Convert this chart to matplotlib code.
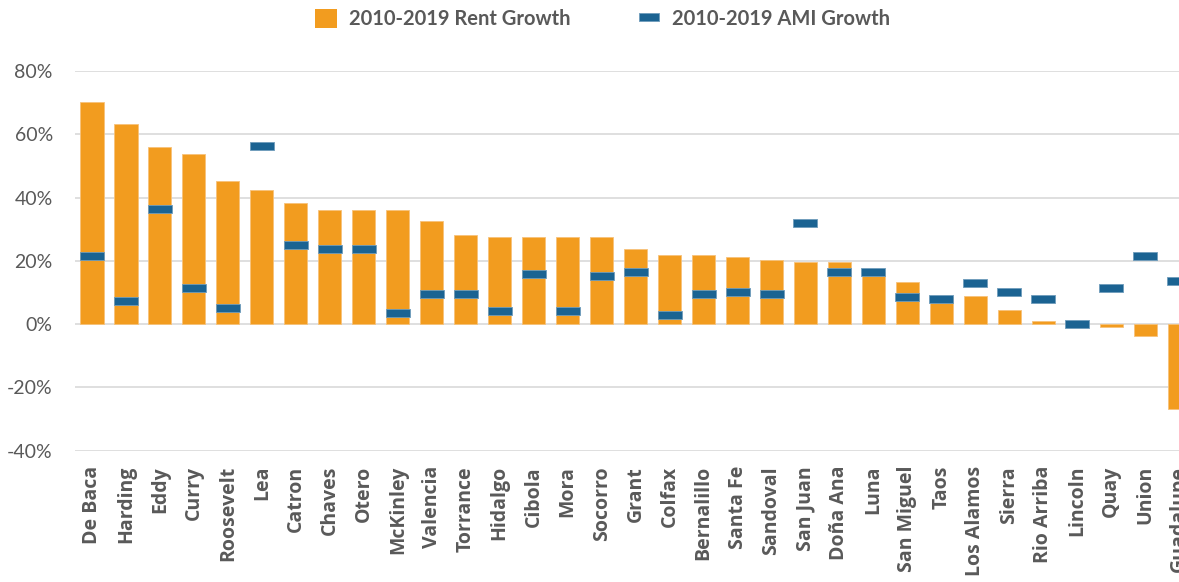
import numpy as np
import matplotlib as mpl
mpl.use('Agg')
import matplotlib.pyplot as plt
from matplotlib.patches import Patch
from matplotlib.lines import Line2D
from matplotlib.path import Path

counties = ['De Baca', 'Harding', 'Eddy', 'Curry', 'Roosevelt', 'Lea', 'Catron',
            'Chaves', 'Otero', 'McKinley', 'Valencia', 'Torrance', 'Hidalgo',
            'Cibola', 'Mora', 'Socorro', 'Grant', 'Colfax', 'Bernalillo',
            'Santa Fe', 'Sandoval', 'San Juan', 'Doña Ana', 'Luna', 'San Miguel',
            'Taos', 'Los Alamos', 'Sierra', 'Rio Arriba', 'Lincoln', 'Quay',
            'Union', 'Guadalupe']

# 2010-2019 growth, percent
rent_growth = [70.3, 63.2, 56.1, 53.9, 45.3, 42.5, 38.2, 36.0, 36.0, 36.0, 32.5,
               28.1, 27.4, 27.4, 27.4, 27.5, 23.9, 21.7, 21.7, 21.1, 20.3, 19.6,
               19.6, 16.5, 13.2, 8.6, 8.9, 4.6, 1.1, 0.2, -1.0, -3.9, -26.8]
ami_growth = [21.5, 7.3, 36.5, 11.5, 5.1, 56.4, 25.1, 23.6, 23.6, 3.6, 9.4, 9.4,
              4.3, 15.8, 4.3, 15.1, 16.4, 2.9, 9.4, 10.0, 9.4, 32.1, 16.4, 16.4,
              8.5, 7.9, 12.9, 10.0, 7.9, 0.0, 11.5, 21.5, 13.6]

yticks = [-40, -20, 0, 20, 40, 60, 80]

orange = '#F29C1F'
blue = '#1B6392'
grey_txt = '#595959'

# flat rectangle marker for the AMI dashes
dash = Path([(-1, -0.39), (1, -0.39), (1, 0.39), (-1, 0.39), (-1, -0.39)],
            [Path.MOVETO, Path.LINETO, Path.LINETO, Path.LINETO, Path.CLOSEPOLY])

fig = plt.figure(figsize=(11.79, 5.82), dpi=100)
# axes runs a bit past the right edge, like the cropped original
ax = fig.add_axes([0.0636, 0.2256, 0.951, 0.6524])

x = np.arange(len(counties))
ax.bar(x, rent_growth, width=0.68, color=orange, edgecolor='#F7C27A',
       linewidth=0.6, zorder=2)
ax.plot(x, ami_growth, ls='none', marker=dash, markersize=16.6,
        markerfacecolor=blue, markeredgecolor='#6F9CBB', markeredgewidth=0.6,
        zorder=3)

ax.set_xlim(-0.5, len(counties) - 0.5)
ax.set_ylim(-40, 80)
ax.set_yticks(yticks)
ax.set_yticklabels(['%d%%' % v for v in yticks], fontfamily='Lato',
                   fontsize=14, color=grey_txt)
ax.set_xticks(x)
ax.set_xticklabels(counties, rotation=90, fontfamily='Open Sans',
                   fontweight='bold', fontsize=14, color=grey_txt)
ax.tick_params(axis='y', length=0, pad=16)
ax.tick_params(axis='x', length=0, pad=11)
ax.grid(axis='y', color='#D9D9D9', linewidth=1.2, zorder=0)
ax.set_axisbelow(True)
for s in ax.spines.values():
    s.set_visible(False)

handles = [Patch(facecolor=orange, edgecolor='none'),
           Line2D([], [], ls='none', marker=dash, markersize=14,
                  markerfacecolor=blue, markeredgecolor='#6F9CBB',
                  markeredgewidth=0.6)]
fig.legend(handles, ['2010-2019 Rent Growth', '2010-2019 AMI Growth'],
           loc='center', bbox_to_anchor=(0.511, 0.967), ncol=2, frameon=False,
           prop={'family': 'Lato', 'weight': 'bold', 'size': 14.5},
           labelcolor=grey_txt, handlelength=1.1, handleheight=1.1,
           handletextpad=0.6, columnspacing=3.3)

plt.savefig('out.png', dpi=100)
